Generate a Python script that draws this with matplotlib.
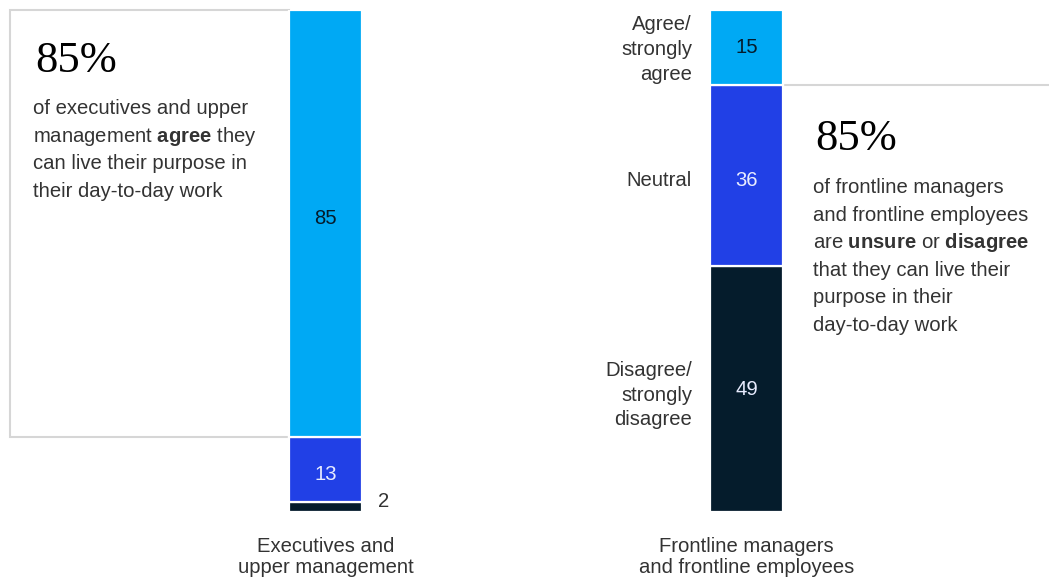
import matplotlib
matplotlib.use("Agg")
import matplotlib.pyplot as plt
import numpy as np

# ---------------- data ----------------
groups = ["Executives and\nupper management", "Frontline managers\nand frontline employees"]
responses = ["Disagree/\nstrongly\ndisagree", "Neutral", "Agree/\nstrongly\nagree"]
exec_values = [2, 13, 85]          # disagree, neutral, agree
frontline_values = [49, 36, 15]    # disagree, neutral, agree

# ---------------- style ----------------
W, H, DPI = 1049, 578, 100
colors = ["#051C2C", "#2140E6", "#00A9F4"]
label_colors = ["#051C2C", "#E8ECFF", "#051C2C"]
frontline_label_colors = ["#E8ECFF", "#E8ECFF", "#051C2C"]
text_color = "#333333"
box_color = "#D6D6D6"
SANS = "Liberation Sans"
SERIF = "Liberation Serif"
# small vertical nudges (pixels, positive = down) for label placement
exec_nudge = [-5, 5, -5]
front_nudge = [0, 5, 0]
resp_nudge = [6, 5, 2]

plt.rcParams["mathtext.fontset"] = "custom"
plt.rcParams["mathtext.rm"] = SANS
plt.rcParams["mathtext.bf"] = SANS + ":bold"

fig = plt.figure(figsize=(W / DPI, H / DPI), dpi=DPI)
fig.patch.set_facecolor("white")

# axes: y 0..100 spans pixels 512 (bottom) .. 10 (top)
y_top_px, y_bot_px = 10, 512
ax = fig.add_axes([0, (H - y_bot_px) / H, 1, (y_bot_px - y_top_px) / H])
px_per_unit = 421.0
x0_px = 325.5
ax.set_xlim(-x0_px / px_per_unit, (W - x0_px) / px_per_unit)
ax.set_ylim(0, 100)
ax.axis("off")
ypx = (y_bot_px - y_top_px) / 100.0   # pixels per data unit

bar_w = 73 / px_per_unit
xpos = np.arange(len(groups))
all_values = [exec_values, frontline_values]

for i, vals in enumerate(all_values):
    bottom = 0
    for j, v in enumerate(vals):
        ax.bar(xpos[i], v, bottom=bottom, width=bar_w, color=colors[j],
               edgecolor="white", linewidth=1.6, zorder=3)
        bottom += v

def px2dx(p):
    return (p - x0_px) / px_per_unit

# value labels
fs = 14.6
bottom = 0
for j, v in enumerate(exec_values):
    c = bottom + v / 2 - exec_nudge[j] / ypx
    if v < 5:
        ax.text(xpos[0] + bar_w / 2 + 22 / px_per_unit, c, f"{v}", ha="center", va="center",
                fontsize=fs, color=text_color, family=SANS)
    else:
        ax.text(xpos[0], c, f"{v}", ha="center", va="center", fontsize=fs,
                color=label_colors[j], family=SANS, zorder=4)
    bottom += v

bottom = 0
for j, v in enumerate(frontline_values):
    c = bottom + v / 2
    ax.text(xpos[1], c - front_nudge[j] / ypx, f"{v}", ha="center", va="center", fontsize=fs,
            color=frontline_label_colors[j], family=SANS, zorder=4)
    # response labels left of frontline bar
    ax.text(px2dx(692), c - resp_nudge[j] / ypx, responses[j], ha="right", va="center",
            fontsize=fs, color=text_color, family=SANS, linespacing=1.38)
    bottom += v

# group labels
for i, g in enumerate(groups):
    ax.annotate(g, xy=(xpos[i], 0), xycoords="data", xytext=(0, -32.5),
                textcoords="offset points", ha="center", va="center",
                fontsize=fs, color=text_color, family=SANS, linespacing=1.18,
                annotation_clip=False)

# annotation box around executives' agree share
agree_base = exec_values[0] + exec_values[1]
bx_left = px2dx(10)
bar0_left = xpos[0] - bar_w / 2
ax.plot([bar0_left, bx_left, bx_left, bar0_left], [100, 100, agree_base, agree_base],
        color=box_color, lw=1.5, clip_on=False, zorder=2, solid_joinstyle="miter")

# line to the right of frontline bar
unsure_top = frontline_values[0] + frontline_values[1]
ax.plot([xpos[1] + bar_w / 2, px2dx(W + 5)], [unsure_top, unsure_top],
        color=box_color, lw=1.5, clip_on=False, zorder=2)

def ftext(x, y, s, **kw):
    fig.text(x / W, 1 - y / H, s, **kw)

# left callout
ftext(35, 72, "85%", fontsize=32, family=SERIF, color="black", va="baseline")
left_lines = ["of executives and upper",
              r"management $\mathbf{agree}$ they",
              "can live their purpose in",
              "their day-to-day work"]
for k, s in enumerate(left_lines):
    ftext(33, 114 + k * 27.6, s, fontsize=fs, family=SANS, color=text_color, va="baseline")

# right callout
ftext(815, 150, "85%", fontsize=32, family=SERIF, color="black", va="baseline")
right_lines = ["of frontline managers",
               "and frontline employees",
               r"are $\mathbf{unsure}$ or $\mathbf{disagree}$",
               "that they can live their",
               "purpose in their",
               "day-to-day work"]
for k, s in enumerate(right_lines):
    ftext(813, 193 + k * 27.6, s, fontsize=fs, family=SANS, color=text_color, va="baseline")

fig.savefig("out.png", dpi=DPI, facecolor="white")
